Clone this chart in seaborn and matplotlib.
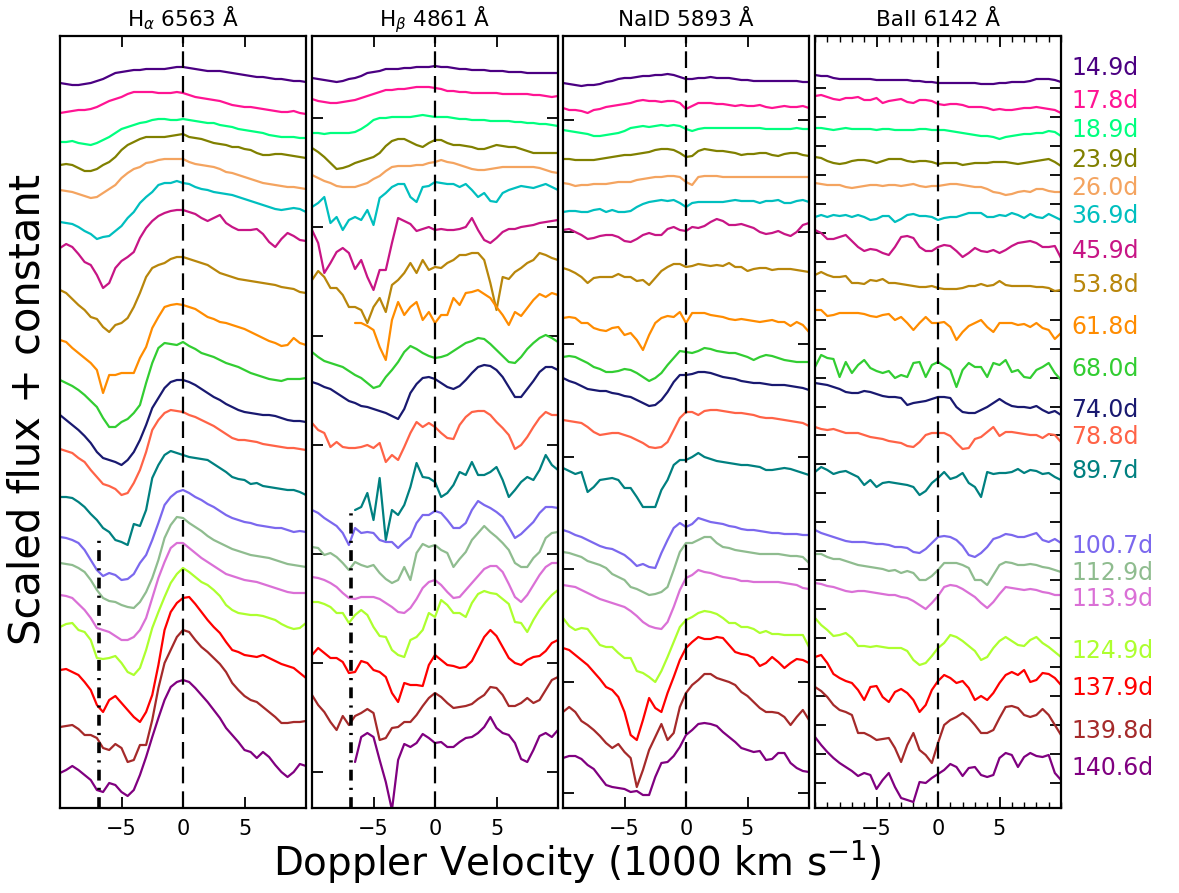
import numpy as np
import pandas as pd
import matplotlib
matplotlib.use("Agg")
import matplotlib.pyplot as plt
import seaborn as sns

nan = np.nan

# Doppler velocity grid (1000 km/s)
velocity = [-10.0, -9.5, -9.0, -8.5, -8.0, -7.5, -7.0, -6.5, -6.0, -5.5, -5.0, -4.5, -4.0, -3.5,
            -3.0, -2.5, -2.0, -1.5, -1.0, -0.5, 0.0, 0.5, 1.0, 1.5, 2.0, 2.5, 3.0, 3.5, 4.0, 4.5,
            5.0, 5.5, 6.0, 6.5, 7.0, 7.5, 8.0, 8.5, 9.0, 9.5, 10.0]

epochs = ["14.9d", "17.8d", "18.9d", "23.9d", "26.0d", "36.9d", "45.9d", "53.8d", "61.8d", "68.0d",
          "74.0d", "78.8d", "89.7d", "100.7d", "112.9d", "113.9d", "124.9d", "137.9d", "139.8d", "140.6d"]
epoch_colors = ["#4B0082", "#FF1493", "#00FF7F", "#808000", "#F4A460", "#00BFBF", "#C71585",
                "#B8860B", "#FF8C00", "#32CD32", "#191970", "#FF6347", "#008080",
                "#7B68EE", "#8FBC8F", "#DA70D6", "#ADFF2F", "#FF0000", "#A52A2A", "#800080"]
label_levels = [832, 799, 770, 740, 712, 684, 649, 615, 573, 531, 490, 463, 429, 354, 327, 301,
                249, 212, 169, 132]
panel_titles = ["H$_\\alpha$ 6563 Å", "H$_\\beta$ 4861 Å", "NaID 5893 Å", "BaII 6142 Å"]

# ---------------- H-alpha ----------------
ha_149 = [817,816,815,815,816,817,819,821,824,827,828,829,830,830,831,831,831,831,832,833,833,832,831,830,829,829,829,828,827,826,825,824,823,823,822,821,821,820,819,819,818]
ha_178 = [787,788,789,790,790,791,793,796,799,801,803,806,808,808,808,808,807,807,807,808,807,805,803,802,801,800,799,797,795,794,793,793,792,791,790,789,788,788,789,787,786]
ha_189 = [758,758,759,757,756,755,757,760,763,767,771,773,775,777,778,780,781,781,780,780,781,780,779,778,777,777,775,774,773,771,770,769,768,767,765,764,763,763,763,762,762]
ha_239 = [735,736,735,732,729,729,731,735,738,743,750,755,758,761,763,763,763,763,764,765,766,763,762,761,759,757,756,755,753,753,751,750,747,745,745,746,746,745,744,743,742]
ha_260 = [710,709,708,706,704,702,703,707,711,715,722,727,731,733,737,738,740,741,741,741,741,738,736,735,734,733,731,728,727,725,723,721,719,717,716,715,714,713,713,712,711]
ha_369 = [678,677,676,673,669,666,661,663,664,669,674,682,688,697,703,708,715,717,717,719,717,716,713,711,710,708,707,706,705,703,701,699,697,695,693,691,690,691,692,691,688]
ha_459 = [652,656,653,646,638,635,625,612,617,632,639,643,648,662,672,679,684,687,689,690,690,688,686,682,679,682,685,677,673,670,670,670,671,666,658,653,661,667,664,660,659]
ha_538 = [610,607,601,595,590,583,581,573,568,575,577,582,593,607,623,632,635,637,641,643,643,641,639,637,635,631,627,625,623,621,620,619,618,617,616,615,613,612,611,608,607]
ha_618 = [560,558,552,547,542,537,530,507,525,525,527,527,527,542,553,572,583,593,595,596,595,593,591,587,583,581,578,577,575,573,571,568,565,562,559,557,554,555,562,557,555]
ha_680 = [520,517,514,510,505,499,493,482,473,473,478,481,487,495,517,537,552,557,556,555,558,554,551,547,545,543,540,537,535,533,530,527,525,523,521,520,519,521,521,521,522]
ha_740 = [485,480,475,470,464,457,448,442,440,438,435,440,448,460,475,492,502,512,518,520,520,518,515,511,507,503,500,496,493,490,488,487,486,485,485,484,482,480,479,479,478]
ha_788 = [451,449,447,442,438,430,423,416,414,411,405,407,417,430,448,470,480,487,490,489,488,485,483,480,477,474,470,466,462,460,460,459,458,456,455,454,453,452,452,451,450]
ha_897 = [403,403,402,398,393,386,380,372,368,360,358,355,376,374,390,422,435,445,449,447,445,443,442,441,440,436,432,428,423,421,420,416,417,414,413,412,411,410,410,408,405]
ha_1007 = [363,362,360,357,350,340,330,324,327,325,320,321,326,337,345,360,377,395,403,408,410,407,403,400,396,393,389,385,382,380,378,377,375,374,373,372,372,370,368,369,368]
ha_1129 = [337,336,335,332,328,320,310,302,299,298,295,293,292,298,308,322,340,362,375,383,382,377,373,369,364,360,357,354,351,349,347,345,344,343,342,340,338,336,335,334,333]
ha_1139 = [305,304,302,296,290,282,272,270,268,264,260,260,263,270,282,302,322,338,352,357,357,352,347,342,338,334,330,326,324,322,320,319,318,316,314,312,310,308,307,307,307]
ha_1249 = [273,276,277,270,268,260,242,241,242,244,237,228,225,232,250,272,288,303,317,326,332,328,323,318,315,310,304,295,290,287,286,285,285,284,282,280,276,273,271,272,277]
ha_1379 = [230,231,228,225,218,210,195,188,200,204,197,190,183,178,188,205,235,270,288,297,302,303,296,288,280,273,267,258,250,248,245,244,243,245,242,239,236,234,232,227,222]
ha_1398 = [173,174,175,171,165,165,162,152,150,156,152,138,140,155,155,180,212,237,250,263,270,268,260,253,248,242,236,228,217,210,204,200,198,193,188,183,177,177,178,178,179]
ha_1406 = [127,130,134,130,125,120,110,108,117,115,108,104,110,125,143,163,182,200,213,218,220,218,212,205,198,190,182,172,165,158,150,148,142,148,143,135,128,123,128,136,134]

# ---------------- H-beta ----------------
hb_149 = [822,821,820,819,818,819,821,822,824,827,828,829,831,831,831,832,832,833,833,833,834,833,833,832,831,831,830,830,830,829,829,829,828,828,828,827,827,827,827,827,827]
hb_178 = [801,799,798,797,797,798,799,800,802,804,806,808,810,810,811,811,812,813,813,813,812,811,809,809,808,808,807,807,807,807,807,806,806,806,806,806,805,805,804,803,804]
hb_189 = [767,767,766,767,767,767,767,768,771,775,780,782,782,783,783,783,783,784,785,784,783,783,783,782,781,781,780,780,780,779,779,779,779,778,778,777,777,776,776,775,774]
hb_239 = [752,748,743,737,731,732,734,737,739,741,743,747,754,759,761,761,758,755,753,757,760,760,757,755,755,754,753,751,751,753,755,754,753,753,751,749,747,747,747,747,747]
hb_260 = [725,722,719,717,714,713,713,713,715,717,721,724,729,733,734,734,734,735,735,737,738,740,738,737,735,733,731,730,730,731,732,733,733,733,733,733,733,732,730,728,727]
hb_369 = [693,697,703,677,683,670,680,683,680,690,675,702,707,713,716,716,703,698,713,714,718,717,716,716,713,716,710,703,707,699,698,707,710,712,714,713,712,714,716,713,710]
hb_459 = [670,657,627,637,648,652,647,631,640,623,610,630,630,657,682,679,676,669,671,673,670,671,670,670,671,673,682,670,660,657,662,668,671,671,673,674,675,677,678,679,680]
hb_538 = [620,629,623,612,612,605,593,593,590,577,593,602,588,615,620,627,637,627,640,630,633,632,637,640,645,645,647,647,640,617,590,623,621,628,632,637,640,647,645,642,640]
hb_618 = [nan,nan,nan,nan,nan,nan,nan,577,577,574,570,553,540,580,598,585,593,598,580,588,577,585,585,602,595,607,608,610,606,602,593,585,575,588,584,592,600,606,603,607,605]
hb_680 = [548,543,539,537,535,533,529,525,522,517,512,514,523,530,538,548,554,551,547,544,542,543,545,549,553,557,559,562,561,556,550,544,538,537,543,551,557,562,565,562,558]
hb_740 = [518,516,513,511,507,503,499,497,494,493,491,489,487,484,481,491,507,516,522,523,521,517,513,511,514,520,527,533,535,534,530,523,513,503,503,511,519,528,533,533,530]
hb_788 = [477,470,467,453,458,453,452,452,453,455,452,457,438,445,440,453,467,478,473,477,473,467,462,461,475,483,488,489,489,485,478,472,465,451,455,463,473,482,488,485,485]
hb_897 = [nan,nan,nan,nan,nan,nan,nan,390,393,407,380,422,360,390,385,395,413,437,423,422,418,403,407,415,428,425,438,425,425,428,433,420,403,410,418,423,420,430,445,435,430]
hb_1007 = [390,387,382,378,374,367,355,372,367,368,367,360,358,358,352,358,363,377,385,385,389,387,380,372,372,377,390,399,395,392,388,383,373,362,366,372,378,387,393,393,392]
hb_1129 = [353,352,345,347,343,337,330,338,335,333,335,327,321,317,320,333,320,347,356,353,355,350,347,333,341,348,360,367,374,368,363,357,350,337,333,333,342,348,362,367,368]
hb_1139 = [323,322,320,317,313,307,302,301,303,303,303,301,297,293,288,287,292,301,312,318,320,315,308,302,303,310,317,324,331,334,334,328,316,303,298,305,315,325,333,337,337]
hb_1249 = [298,298,296,293,287,287,277,285,290,285,273,264,263,250,245,243,260,263,270,287,283,300,295,287,287,283,297,306,309,307,306,301,296,278,277,268,280,290,298,305,310]
hb_1379 = [245,252,247,242,242,238,227,228,239,237,230,228,223,207,198,217,215,215,214,235,245,240,235,234,232,233,239,251,263,270,264,253,242,237,235,240,243,244,249,257,260]
hb_1398 = [205,195,188,178,170,184,175,184,187,191,187,160,162,172,173,178,178,185,194,202,207,203,197,192,193,194,196,201,205,213,212,205,194,194,197,202,197,200,210,220,223]
hb_1406 = [nan,nan,nan,nan,nan,nan,nan,138,163,167,163,140,118,90,140,156,153,157,166,162,157,158,153,153,158,162,163,167,173,183,172,167,165,157,141,138,150,164,167,163,170]

# ---------------- Na I D ----------------
na_149 = [817,816,815,814,815,815,816,818,819,821,822,822,823,824,824,825,825,826,825,823,821,821,822,822,823,822,822,822,821,820,820,819,819,819,819,819,819,819,819,818,818]
na_178 = [792,790,790,789,787,790,791,793,794,795,796,797,799,800,799,799,798,799,799,797,791,794,797,797,797,796,796,795,794,795,794,794,795,793,792,793,794,793,793,794,792]
na_189 = [770,769,768,767,766,764,764,765,766,767,769,772,773,774,773,774,775,774,775,774,771,769,771,772,772,772,772,772,772,772,772,772,772,771,771,771,771,771,772,771,771]
na_239 = [741,741,740,740,740,740,741,742,743,744,745,745,746,747,748,750,751,751,750,747,743,744,749,751,750,749,749,748,747,745,746,746,747,747,745,744,746,747,747,745,744]
na_260 = [717,716,714,715,715,716,716,716,717,718,718,718,720,721,722,723,723,724,724,723,718,715,723,724,724,724,723,723,723,723,723,723,723,723,723,723,723,723,723,723,723]
na_369 = [688,689,689,688,688,690,691,688,690,688,688,689,693,696,698,699,700,699,700,697,693,697,698,698,698,698,698,699,700,699,699,699,697,699,699,700,697,697,699,700,698]
na_459 = [670,671,668,665,661,662,664,665,665,663,659,658,661,665,667,665,665,671,673,670,669,673,672,674,678,681,679,675,675,676,674,672,668,666,667,669,666,664,668,675,677]
na_538 = [632,630,627,623,617,622,623,623,623,626,623,623,619,620,615,622,629,633,636,636,633,634,636,635,634,635,634,637,633,633,629,631,632,632,630,631,631,631,630,629,628]
na_618 = [582,583,582,577,577,572,570,569,572,573,565,567,560,550,565,577,582,584,583,588,577,587,587,587,585,584,583,581,580,581,580,579,578,579,580,578,578,574,578,575,568]
na_680 = [543,544,543,540,537,533,531,528,528,529,531,530,527,523,519,522,527,535,542,549,548,547,549,552,551,549,548,547,547,545,543,540,543,545,544,542,540,539,538,538,538]
na_740 = [522,519,517,514,511,510,509,509,507,506,504,503,500,497,494,495,500,508,518,525,525,526,528,528,527,525,523,522,521,519,518,517,517,516,515,515,515,514,513,512,510]
na_788 = [480,479,478,477,473,468,465,466,467,467,465,463,460,457,453,452,453,458,470,482,488,488,485,489,490,490,489,488,487,487,486,485,483,482,482,481,480,479,478,477,474]
na_897 = [432,429,426,428,408,413,420,421,422,420,412,412,403,393,393,393,410,420,435,440,440,443,447,443,441,439,438,437,436,435,435,434,433,430,430,431,432,431,429,427,425]
na_1007 = [370,368,365,363,360,357,354,352,351,348,345,340,334,336,333,332,347,360,372,377,373,376,382,380,378,377,376,374,373,371,370,370,369,368,367,367,366,366,366,365,365]
na_1129 = [348,347,345,343,339,337,335,332,326,323,320,313,311,308,305,306,308,313,330,348,357,357,360,363,363,357,353,352,350,349,348,347,346,346,346,346,345,344,344,343,337]
na_1139 = [315,314,313,310,307,304,301,299,297,295,293,289,284,278,274,272,271,278,293,310,322,325,330,328,327,325,323,322,321,319,319,318,318,318,318,318,317,316,315,312,311]
na_1249 = [282,274,270,272,271,263,255,253,253,247,242,242,229,227,223,218,229,243,258,273,280,283,287,289,288,286,282,277,277,273,273,271,267,269,266,266,265,265,265,265,253]
na_1379 = [252,250,245,240,235,228,221,213,210,203,188,165,160,180,202,192,188,207,223,240,252,258,263,261,261,263,262,255,248,246,245,242,234,237,243,238,232,237,241,240,237]
na_1398 = [188,193,188,179,175,170,164,157,152,156,148,142,113,130,150,163,176,160,167,193,207,215,220,226,226,222,220,218,215,208,204,198,192,188,188,187,183,175,183,190,180]
na_1406 = [142,144,144,141,135,131,123,115,113,112,111,108,109,105,105,123,137,138,144,153,165,170,176,177,176,174,168,163,158,152,150,148,149,140,141,147,147,137,132,129,128]

# ---------------- Ba II ----------------
ba_149 = [825,824,824,822,821,821,821,821,821,821,820,820,820,820,820,820,819,819,818,818,817,817,817,817,817,817,817,816,816,816,817,817,818,818,818,819,821,821,821,820,818]
ba_178 = [804,805,803,801,800,802,802,803,800,800,802,797,799,800,801,798,797,800,800,799,796,795,796,796,795,793,793,793,792,790,791,790,790,791,792,792,793,792,791,790,787]
ba_189 = [772,772,771,770,771,772,771,771,771,771,770,771,771,770,770,770,770,771,771,770,770,770,769,768,767,766,765,764,764,763,761,763,764,765,766,766,767,767,769,768,764]
ba_239 = [743,742,739,737,736,737,739,740,740,739,737,739,741,741,741,739,738,739,739,738,736,737,737,737,735,736,737,737,737,738,738,738,737,736,737,738,739,740,741,738,734]
ba_260 = [717,716,715,715,715,713,712,713,714,715,715,714,715,715,714,715,716,714,713,714,714,715,716,716,715,714,713,713,711,708,707,705,706,708,709,708,711,711,709,708,708]
ba_369 = [683,685,683,685,684,685,683,685,683,680,681,684,684,678,681,685,686,684,684,683,680,682,683,683,685,687,687,687,683,683,685,684,687,685,682,686,683,682,686,683,680]
ba_459 = [670,667,661,661,663,665,659,653,649,651,650,647,645,653,663,664,662,653,649,649,653,655,654,649,643,647,652,649,648,650,647,650,654,657,658,659,657,653,653,654,642]
ba_538 = [625,628,625,623,623,624,617,617,616,620,619,621,617,617,616,615,614,613,613,614,612,611,611,611,612,614,614,616,614,615,619,615,614,614,614,614,613,613,612,609,610]
ba_618 = [590,590,584,585,587,587,587,587,586,584,583,585,586,580,583,577,570,577,583,577,577,578,573,560,568,574,577,580,573,568,577,577,577,575,576,573,577,572,570,561,567]
ba_680 = [533,545,542,541,523,538,527,535,540,532,529,527,529,522,525,523,537,538,523,535,538,534,530,513,530,537,533,533,523,537,535,540,528,530,523,522,530,533,537,527,520]
ba_740 = [517,516,515,513,511,508,507,507,509,508,506,504,503,503,502,495,497,498,499,501,503,503,502,493,488,487,487,490,493,497,501,497,494,493,493,492,494,490,487,489,485]
ba_788 = [473,471,470,471,469,467,467,467,465,463,462,461,459,458,457,454,453,458,465,467,467,467,464,457,451,452,461,463,468,473,464,468,468,467,466,465,465,462,466,465,458]
ba_897 = [428,433,430,426,428,429,426,423,415,420,413,417,418,417,416,415,413,405,409,417,422,428,421,423,427,417,413,403,428,426,427,427,428,431,427,430,429,426,427,423,420]
ba_1007 = [370,367,365,363,361,359,358,358,358,357,356,356,355,353,353,352,348,347,351,357,363,364,363,360,354,345,343,347,353,361,363,366,365,363,363,365,367,360,358,361,357]
ba_1129 = [346,346,343,341,341,339,337,335,334,333,332,331,329,330,327,329,327,320,320,324,330,337,337,337,335,332,320,320,315,325,335,338,337,335,335,336,335,333,332,330,328]
ba_1139 = [317,316,314,313,311,309,308,309,309,308,307,306,305,305,303,302,299,295,291,297,304,313,315,314,311,307,303,297,292,298,306,313,312,311,310,311,310,308,307,305,305]
ba_1249 = [282,275,270,264,265,267,262,254,254,253,254,253,252,252,252,249,240,235,237,244,252,257,265,263,259,254,249,240,243,252,259,263,259,255,254,260,263,257,253,248,243]
ba_1379 = [243,245,237,226,222,219,217,210,200,213,214,203,198,208,211,207,200,188,195,210,219,225,222,217,219,212,200,204,200,207,217,225,228,225,230,218,220,227,226,222,215]
ba_1398 = [213,209,203,195,190,188,185,167,167,164,160,161,162,152,138,155,167,150,145,137,157,175,180,183,187,182,175,167,167,170,182,193,194,192,185,183,185,191,185,175,165]
ba_1406 = [163,155,148,142,137,133,129,124,127,125,111,120,127,113,102,100,98,118,117,122,126,130,136,133,124,132,133,125,123,125,142,147,145,133,143,147,144,143,145,127,120]

ha_curves = [ha_149, ha_178, ha_189, ha_239, ha_260, ha_369, ha_459, ha_538, ha_618, ha_680,
             ha_740, ha_788, ha_897, ha_1007, ha_1129, ha_1139, ha_1249, ha_1379, ha_1398, ha_1406]
hb_curves = [hb_149, hb_178, hb_189, hb_239, hb_260, hb_369, hb_459, hb_538, hb_618, hb_680,
             hb_740, hb_788, hb_897, hb_1007, hb_1129, hb_1139, hb_1249, hb_1379, hb_1398, hb_1406]
na_curves = [na_149, na_178, na_189, na_239, na_260, na_369, na_459, na_538, na_618, na_680,
             na_740, na_788, na_897, na_1007, na_1129, na_1139, na_1249, na_1379, na_1398, na_1406]
ba_curves = [ba_149, ba_178, ba_189, ba_239, ba_260, ba_369, ba_459, ba_538, ba_618, ba_680,
             ba_740, ba_788, ba_897, ba_1007, ba_1129, ba_1139, ba_1249, ba_1379, ba_1398, ba_1406]
panel_curves = [ha_curves, hb_curves, na_curves, ba_curves]

# reference markers
marker_velocity = -6.8
marker_tops = [365, 393]          # top of the dash-dot marker in panels 1 and 2
hb_yticks = [782, 673, 564, 455, 346, 237, 128]
na_yticks = [780, 668, 556, 443, 331, 218, 107]

# ---------------- build long table ----------------
rows = []
for p, curves in enumerate(panel_curves):
    for ep, flux in zip(epochs, curves):
        for v, f in zip(velocity, flux):
            rows.append((p, ep, v, f))
df = pd.DataFrame(rows, columns=["panel", "epoch", "velocity", "flux"]).dropna()

sns.set_theme(style="ticks")
plt.rcParams.update({
    "font.family": ["DejaVu Sans"],
    "axes.edgecolor": "black",
    "axes.linewidth": 1.6,
    "xtick.direction": "in",
    "ytick.direction": "in",
    "xtick.color": "black",
    "ytick.color": "black",
    "text.color": "black",
})

W, H = 1179, 893
fig = plt.figure(figsize=(W / 100, H / 100), dpi=100)
lefts = [60, 312, 563, 815]
axes = [fig.add_axes([l / W, (H - 808) / H, 246 / W, 772 / H]) for l in lefts]
palette = dict(zip(epochs, epoch_colors))
YLIM = (92, 864)

for p, ax in enumerate(axes):
    sub = df[df["panel"] == p]
    sns.lineplot(data=sub, x="velocity", y="flux", hue="epoch", hue_order=epochs,
                 palette=palette, estimator=None, sort=False, legend=False,
                 linewidth=1.6, ax=ax)
    ax.axvline(0, color="black", lw=1.6, ls=(0, (7.5, 3.6)), zorder=3)
    ax.set_xlim(-10, 10)
    ax.set_ylim(*YLIM)
    ax.set_xticks([-5, 0, 5])
    ax.set_xlabel("")
    ax.set_ylabel("")
    ax.set_title(panel_titles[p], fontsize=15.5, pad=7)
    ax.tick_params(axis="both", which="major", direction="in", top=True, right=True,
                   length=8, width=1.3, labelsize=15, pad=8, labelleft=False)
    for s in ax.spines.values():
        s.set_linewidth(1.6)
        s.set_color("black")

axes[0].set_yticks([])
axes[1].set_yticks(hb_yticks)
axes[2].set_yticks(na_yticks)
axes[3].set_yticks(np.arange(811.7, 100, -28.93))
axes[3].set_xticks(np.arange(-10, 11, 1), minor=True)
axes[3].tick_params(axis="x", which="minor", direction="in", top=True, length=4, width=1.0)
for ax in axes:
    ax.tick_params(labelleft=False)

for ax, top in zip(axes[:2], marker_tops):
    ax.vlines(marker_velocity, YLIM[0], top, colors="black", lw=2.6,
              linestyles=[(0, (3, 2, 0.6, 2))], zorder=3)

for ep, col, lvl in zip(epochs, epoch_colors, label_levels):
    axes[3].text(10.85, lvl, ep, color=col, fontsize=17, ha="left", va="center",
                 clip_on=False)

fig.text(0.49, 0.035, "Doppler Velocity (1000 km s$^{-1}$)", ha="center", va="center",
         fontsize=28)
fig.text(0.023, 0.542, "Scaled flux + constant", ha="center", va="center",
         rotation=90, fontsize=30)

fig.savefig("out.png", dpi=100)
